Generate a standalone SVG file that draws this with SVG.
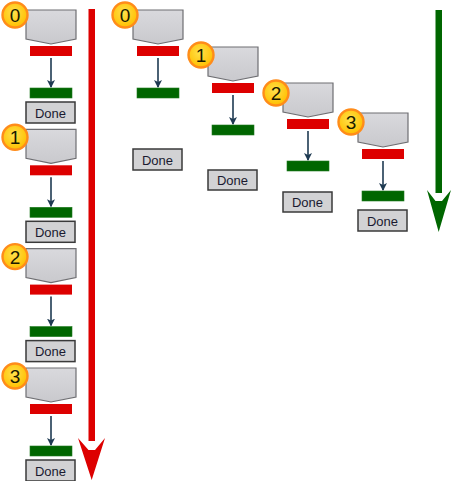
<svg xmlns="http://www.w3.org/2000/svg" width="452" height="481" viewBox="0 0 452 481">
  <defs>
    <radialGradient id="badgeFill" cx="0.45" cy="0.4" r="0.6">
      <stop offset="0" stop-color="#ffe14a"/>
      <stop offset="1" stop-color="#ffbf00"/>
    </radialGradient>
    <linearGradient id="boxFill" x1="0" y1="0" x2="0" y2="1">
      <stop offset="0" stop-color="#d9d9dd"/>
      <stop offset="1" stop-color="#c9c9cd"/>
    </linearGradient>
    <marker id="tip" viewBox="0 0 8 12" refX="7" refY="4" markerWidth="8" markerHeight="12" markerUnits="userSpaceOnUse" orient="auto">
      <path d="M0,0 L8,4 L0,8 L2,4 Z" fill="#1e3a52"/>
    </marker>
    <!-- one work step: header, red bar, arrow, green bar -->
    <g id="step">
      <path class="hdr" d="M0,0 H50 V29 L25,34 L0,29 Z"/>
      <rect class="red" x="4" y="36" width="42" height="10"/>
      <line class="flow" x1="25" y1="48" x2="25" y2="77"/>
      <rect class="grn" x="4" y="78" width="42" height="10"/>
    </g>
  </defs>
  <style>
    .hdr { fill: url(#boxFill); stroke: #6e6e72; stroke-width: 1.2; }
    .red { fill: #dd0000; }
    .grn { fill: #006600; stroke: #1f7a1f; stroke-width: 0.6; }
    .flow { stroke: #1e3a52; stroke-width: 1.6; marker-end: url(#tip); }
    .done rect { fill: #d2d2d4; stroke: #3a3a3a; stroke-width: 1.5; }
    .done text { font-family: "Liberation Sans", Arial, sans-serif; font-size: 13px; fill: #1a1a30; text-anchor: middle; }
    .badge circle { fill: url(#badgeFill); stroke: #ff8c1a; stroke-width: 2.4; }
    .badge text { font-family: "Liberation Sans", Arial, sans-serif; font-size: 19px; fill: #1a1a00; text-anchor: middle; }
  </style>

  <!-- big timeline arrows -->
  <g id="connectors">
    <rect x="88.5" y="9" width="6.5" height="432" fill="#dd0000"/>
    <path d="M88.5,450 L78,438 L91.7,480 L105,438 L95,450 Z" fill="#dd0000"/>
    <rect x="435.5" y="10" width="6.5" height="183" fill="#006600"/>
    <path d="M435.5,201 L427,190 L438.7,232 L451,190 L442,201 Z" fill="#006600"/>
  </g>

  <!-- sequential column -->
  <g id="seq0" transform="translate(26,10)">
    <use href="#step"/>
    <g class="done"><rect x="0" y="92" width="49" height="21"/><text x="24.5" y="107.5">Done</text></g>
    <g class="badge"><circle cx="-11" cy="5" r="12.5"/><text x="-11" y="12">0</text></g>
  </g>
  <g id="seq1" transform="translate(26,129.3)">
    <use href="#step"/>
    <g class="done"><rect x="0" y="92" width="49" height="21"/><text x="24.5" y="107.5">Done</text></g>
    <g class="badge"><circle cx="-11" cy="8" r="12.5"/><text x="-11" y="15">1</text></g>
  </g>
  <g id="seq2" transform="translate(26,248.6)">
    <use href="#step"/>
    <g class="done"><rect x="0" y="92" width="49" height="21"/><text x="24.5" y="107.5">Done</text></g>
    <g class="badge"><circle cx="-11" cy="8" r="12.5"/><text x="-11" y="15">2</text></g>
  </g>
  <g id="seq3" transform="translate(26,368)">
    <use href="#step"/>
    <g class="done"><rect x="0" y="92" width="49" height="21"/><text x="24.5" y="107.5">Done</text></g>
    <g class="badge"><circle cx="-11" cy="8" r="12.5"/><text x="-11" y="15">3</text></g>
  </g>

  <!-- overlapping staircase -->
  <g id="par0" transform="translate(133,10)">
    <use href="#step"/>
    <g class="done"><rect x="0" y="139" width="49" height="21"/><text x="24.5" y="154.5">Done</text></g>
    <g class="badge"><circle cx="-8" cy="5" r="12.5"/><text x="-8" y="12">0</text></g>
  </g>
  <g id="par1" transform="translate(208,47)">
    <use href="#step"/>
    <g class="done"><rect x="0" y="123" width="49" height="20"/><text x="24.5" y="137.5">Done</text></g>
    <g class="badge"><circle cx="-7" cy="8" r="12.5"/><text x="-7" y="15">1</text></g>
  </g>
  <g id="par2" transform="translate(283,83)">
    <use href="#step"/>
    <g class="done"><rect x="0" y="109" width="49" height="20"/><text x="24.5" y="123.5">Done</text></g>
    <g class="badge"><circle cx="-7" cy="10" r="12.5"/><text x="-7" y="17">2</text></g>
  </g>
  <g id="par3" transform="translate(358,113)">
    <use href="#step"/>
    <g class="done"><rect x="0" y="97" width="49" height="21"/><text x="24.5" y="112.5">Done</text></g>
    <g class="badge"><circle cx="-7" cy="9" r="12.5"/><text x="-7" y="16">3</text></g>
  </g>
</svg>
